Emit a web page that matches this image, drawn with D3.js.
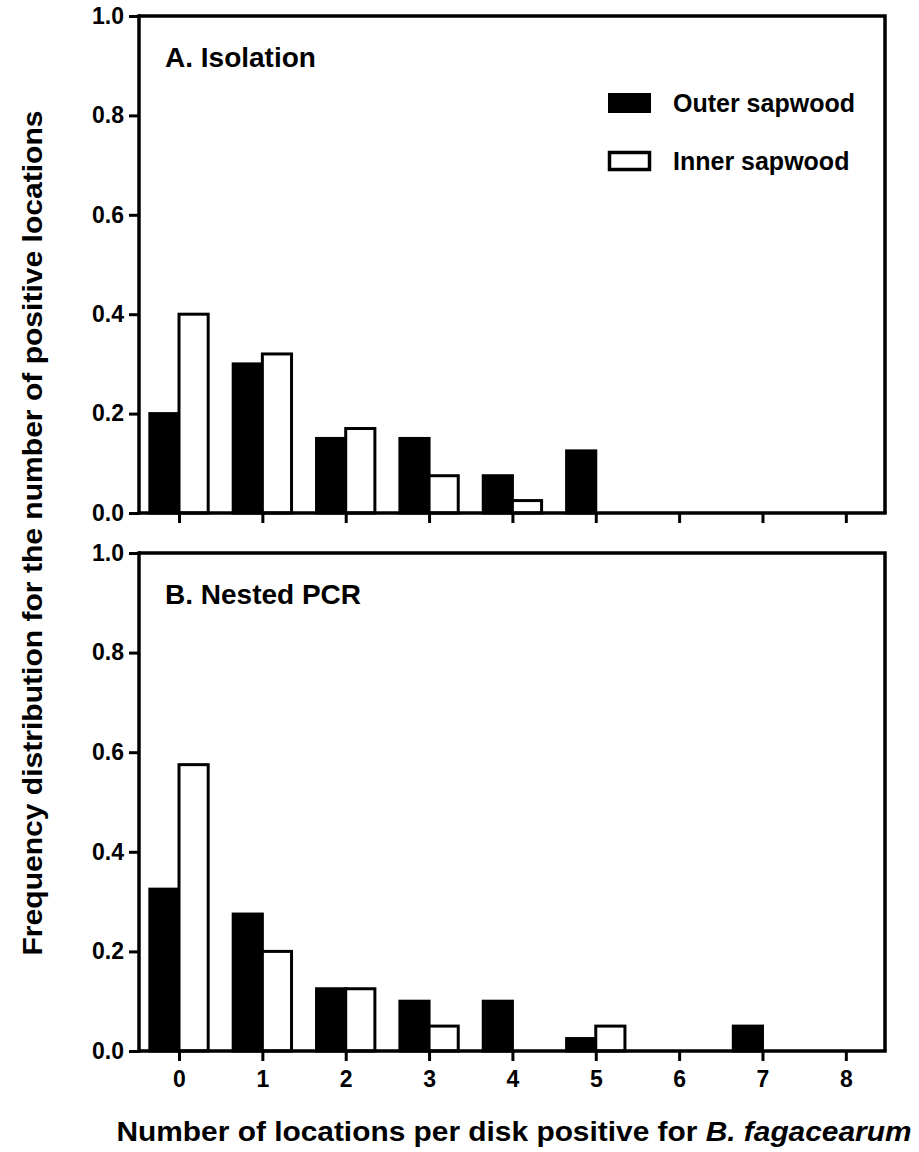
<!DOCTYPE html>
<html>
<head>
<meta charset="utf-8">
<script src="https://cdn.jsdelivr.net/npm/d3@7"></script>
<style>
  body { margin: 0; background: #fff; }
  text { font-family: "Liberation Sans", Arial, Helvetica, sans-serif; font-weight: bold; fill: #000; }
</style>
</head>
<body>
<svg id="chart"></svg>
<script>
var width = 919;
var height = 1152;

// data
var categories = [0, 1, 2, 3, 4, 5, 6, 7, 8];
var yTicks = [0, 0.2, 0.4, 0.6, 0.8, 1.0];
var isolationOuter = [0.20, 0.30, 0.15, 0.15, 0.075, 0.125, 0, 0, 0];
var isolationInner = [0.40, 0.32, 0.17, 0.075, 0.025, 0, 0, 0, 0];
var pcrOuter = [0.325, 0.275, 0.125, 0.10, 0.10, 0.025, 0, 0.05, 0];
var pcrInner = [0.575, 0.20, 0.125, 0.05, 0, 0.05, 0, 0, 0];
var seriesNames = ["Outer sapwood", "Inner sapwood"];

var left = 139, right = 885;
var barW = 0.35;

var svg = d3.select("#chart")
    .attr("width", width)
    .attr("height", height);

var x = d3.scaleLinear().domain([-0.48, 8.47]).range([left, right]);

function drawPanel(top, bottom, title, outer, inner, showLabels) {
    var y = d3.scaleLinear().domain([0, 1]).range([bottom, top]);
    var g = svg.append("g");

    // box top / right
    g.append("path")
        .attr("d", "M" + left + "," + top + "H" + right + "V" + bottom)
        .attr("fill", "none")
        .attr("stroke", "#000")
        .attr("stroke-width", 3.5);

    // bars
    var rows = categories.map(function (c, i) {
        return { c: c, outer: outer[i], inner: inner[i] };
    });
    g.selectAll(".outer")
        .data(rows.filter(function (d) { return d.outer > 0; }))
        .enter().append("rect")
        .attr("x", function (d) { return x(d.c - barW); })
        .attr("width", function (d) { return x(d.c) - x(d.c - barW); })
        .attr("y", function (d) { return y(d.outer); })
        .attr("height", function (d) { return y(0) - y(d.outer); })
        .attr("fill", "#000")
        .attr("stroke", "#000")
        .attr("stroke-width", 3);
    g.selectAll(".inner")
        .data(rows.filter(function (d) { return d.inner > 0; }))
        .enter().append("rect")
        .attr("x", function (d) { return x(d.c); })
        .attr("width", function (d) { return x(d.c + barW) - x(d.c); })
        .attr("y", function (d) { return y(d.inner); })
        .attr("height", function (d) { return y(0) - y(d.inner); })
        .attr("fill", "#fff")
        .attr("stroke", "#000")
        .attr("stroke-width", 3);

    // axes
    var yAxis = g.append("g")
        .attr("transform", "translate(" + left + ",0)")
        .call(d3.axisLeft(y).tickValues(yTicks).tickFormat(d3.format(".1f")).tickSize(10).tickPadding(5));
    var xAxis = g.append("g")
        .attr("transform", "translate(0," + bottom + ")")
        .call(d3.axisBottom(x).tickValues(categories).tickSize(10).tickPadding(10)
            .tickFormat(showLabels ? d3.format("d") : ""));

    [yAxis, xAxis].forEach(function (a) {
        a.select(".domain").remove();
        a.selectAll(".tick line").attr("stroke-width", 3);
        a.selectAll("text").style("font-size", "23px").style("font-family", "Liberation Sans, Arial, sans-serif").style("font-weight", "bold");
    });
    g.append("line").attr("x1", left).attr("x2", left).attr("y1", top - 1.75).attr("y2", bottom + 1.75)
        .attr("stroke", "#000").attr("stroke-width", 3.5);
    g.append("line").attr("x1", left).attr("x2", right + 1.75).attr("y1", bottom).attr("y2", bottom)
        .attr("stroke", "#000").attr("stroke-width", 3.5);

    g.append("text")
        .attr("x", 165)
        .attr("y", top + 51)
        .style("font-size", "28px")
        .text(title);
}

drawPanel(16, 513, "A. Isolation", isolationOuter, isolationInner, false);
drawPanel(553, 1051, "B. Nested PCR", pcrOuter, pcrInner, true);

// legend
var legend = svg.append("g").attr("transform", "translate(608,0)");
seriesNames.forEach(function (name, i) {
    var ly = 103 + i * 58;
    legend.append("rect")
        .attr("x", i === 0 ? 0 : 1.5)
        .attr("y", i === 0 ? ly - 10 : ly - 8.5)
        .attr("width", i === 0 ? 43 : 40)
        .attr("height", i === 0 ? 20 : 17)
        .attr("fill", i === 0 ? "#000" : "#fff")
        .attr("stroke", "#000")
        .attr("stroke-width", i === 0 ? 0 : 3.5);
    legend.append("text")
        .attr("x", 65)
        .attr("y", ly + 9)
        .style("font-size", "25px")
        .text(name);
});

// axis titles
svg.append("text")
    .attr("transform", "translate(42,533)rotate(-90)")
    .attr("text-anchor", "middle")
    .attr("textLength", 845)
    .attr("lengthAdjust", "spacingAndGlyphs")
    .style("font-size", "27px")
    .text("Frequency distribution for the number of positive locations");

var xt = svg.append("text")
    .attr("x", 514)
    .attr("y", 1141)
    .attr("text-anchor", "middle")
    .attr("textLength", 795)
    .attr("lengthAdjust", "spacingAndGlyphs")
    .style("font-size", "27px");
xt.append("tspan").text("Number of locations per disk positive for ");
xt.append("tspan").style("font-style", "italic").text("B. fagacearum");
</script>
</body>
</html>
